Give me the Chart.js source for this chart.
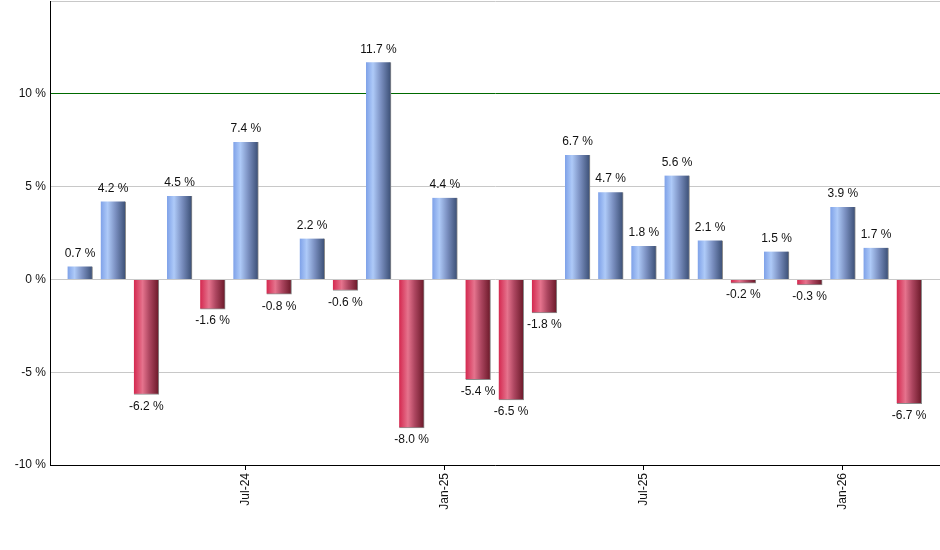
<!DOCTYPE html>
<html>
<head>
<meta charset="utf-8">
<script src="https://cdn.jsdelivr.net/npm/chart.js@4/dist/chart.umd.min.js"></script>
<style>
  html, body { margin: 0; padding: 0; background: #fff; }
  #wrap { width: 940px; height: 550px; }
</style>
</head>
<body>
<div id="wrap"><canvas id="c" width="940" height="550"></canvas></div>
<script>
// months, one per bar
const months = ['Feb-24','Mar-24','Apr-24','May-24','Jun-24','Jul-24','Aug-24','Sep-24','Oct-24','Nov-24','Dec-24',
  'Jan-25','Feb-25','Mar-25','Apr-25','May-25','Jun-25','Jul-25','Aug-25','Sep-25','Oct-25','Nov-25','Dec-25',
  'Jan-26','Feb-26','Mar-26'];
// monthly change in %
const changes = [0.7, 4.2, -6.2, 4.5, -1.6, 7.4, -0.8, 2.2, -0.6, 11.7, -8.0, 4.4, -5.4, -6.5, -1.8,
  6.7, 4.7, 1.8, 5.6, 2.1, -0.2, 1.5, -0.3, 3.9, 1.7, -6.7];
// which months get an x-axis label
const xTickLabels = ['Jul-24', 'Jan-25', 'Jul-25', 'Jan-26'];
const yTicks = [-10, -5, 0, 5, 10, 15];

const FONT = "'Liberation Sans', Arial, sans-serif";
const BAR_W = 25;

function barFill(ctx) {
    const chart = ctx.chart;
    const v = changes[ctx.dataIndex];
    const up = v >= 0;
    const xs = chart.scales && chart.scales.x;
    if (!chart.chartArea || !xs || ctx.type !== 'data') {
        return up ? '#6f8fd0' : '#c03050';
    }
    const cx = xs.getPixelForValue(ctx.dataIndex);
    const g = chart.ctx.createLinearGradient(cx - BAR_W / 2, 0, cx + BAR_W / 2, 0);
    if (up) {
        g.addColorStop(0, '#7ea1e8');
        g.addColorStop(0.28, '#aecaf8');
        g.addColorStop(0.6, '#7a8fc0');
        g.addColorStop(1, '#3a4e74');
    } else {
        g.addColorStop(0, '#d4284f');
        g.addColorStop(0.35, '#e5738d');
        g.addColorStop(0.62, '#ad4660');
        g.addColorStop(1, '#6a1828');
    }
    return g;
}

// value labels above / below each bar
const valueLabels = {
    id: 'valueLabels',
    afterDatasetsDraw(chart) {
        const ctx = chart.ctx;
        const meta = chart.getDatasetMeta(0);
        ctx.save();
        ctx.font = '12px ' + FONT;
        ctx.fillStyle = '#111';
        ctx.textAlign = 'center';
        meta.data.forEach((el, i) => {
            const v = changes[i];
            const txt = v.toFixed(1) + ' %';
            if (v >= 0) {
                ctx.textBaseline = 'bottom';
                ctx.fillText(txt, el.x, el.y - 7);
            } else {
                ctx.textBaseline = 'top';
                ctx.fillText(txt, el.x, el.y + 6);
            }
        });
        ctx.restore();
    }
};

new Chart(document.getElementById('c'), {
    type: 'bar',
    data: {
        datasets: [{
            data: changes.map((v, i) => ({ x: i, y: v })),
            backgroundColor: barFill,
            borderColor: '#8c8c8c',
            borderWidth: { right: 1, left: 0, top: 0, bottom: 1 },
            borderSkipped: 'start',
            barThickness: BAR_W
        }]
    },
    options: {
        responsive: false,
        animation: false,
        events: [],
        layout: { padding: { top: 1, right: 0, left: 0, bottom: 0 } },
        plugins: {
            legend: { display: false },
            tooltip: { enabled: false },
            title: { display: false }
        },
        scales: {
            x: {
                type: 'linear',
                offset: false,
                min: -0.905,
                max: 25.93,
                afterBuildTicks: function (axis) {
                    axis.ticks = xTickLabels.map(l => ({ value: months.indexOf(l) }));
                },
                afterFit: function (axis) {
                    axis.height = 85;
                    axis.paddingLeft = 0;
                    axis.paddingRight = 0;
                },
                ticks: {
                    autoSkip: false,
                    minRotation: 90,
                    maxRotation: 90,
                    padding: 3,
                    color: '#111',
                    font: { family: FONT, size: 12 },
                    callback: function (value) { return months[value]; }
                },
                grid: {
                    offset: false,
                    drawOnChartArea: false,
                    drawTicks: true,
                    tickLength: 5,
                    color: '#000'
                },
                border: { display: true, color: '#000', width: 1 }
            },
            y: {
                min: -10,
                max: 15,
                afterBuildTicks: function (axis) {
                    axis.ticks = yTicks.map(v => ({ value: v }));
                },
                afterFit: function (axis) {
                    axis.width = 50;
                    axis.paddingTop = 0;
                    axis.paddingBottom = 0;
                },
                ticks: {
                    padding: 4,
                    color: '#111',
                    font: { family: FONT, size: 12 },
                    callback: function (value) { return value === 15 ? '' : value + ' %'; }
                },
                grid: {
                    drawTicks: false,
                    color: function (ctx) {
                        return ctx.tick && ctx.tick.value === 10 ? '#006a00' : '#c8c8c8';
                    },
                    lineWidth: 1
                },
                border: { display: true, color: '#000', width: 1 }
            }
        }
    },
    plugins: [valueLabels]
});
</script>
</body>
</html>
